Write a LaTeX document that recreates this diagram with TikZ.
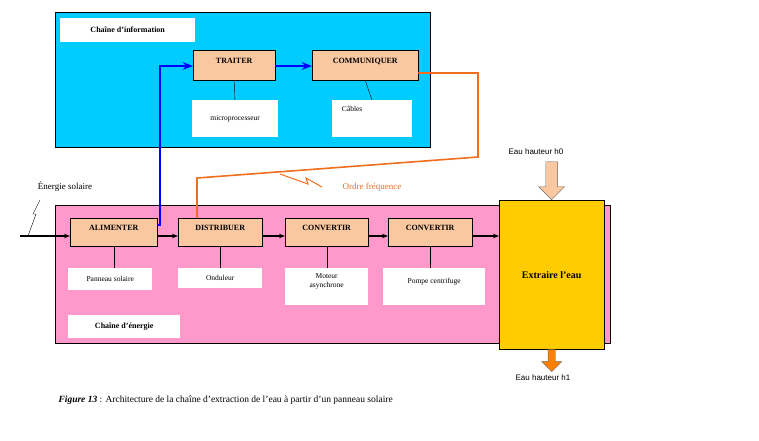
\documentclass[tikz,border=0pt]{standalone}
\usepackage{fontspec}
\setmainfont{Liberation Serif}
\newfontfamily\arialfont{Liberation Sans}
\usetikzlibrary{arrows.meta,shapes.arrows}
\definecolor{infoblue}{RGB}{0,204,255}
\definecolor{energypink}{RGB}{255,153,204}
\definecolor{blockpeach}{RGB}{250,200,160}
\definecolor{eauyellow}{RGB}{255,204,0}
\definecolor{ordreorange}{RGB}{240,110,30}
\begin{document}
\begin{tikzpicture}[x=1pt, y=-1pt,
			block/.style={draw, fill=blockpeach, font=\bfseries\fontsize{8}{9}\selectfont, minimum width=84, minimum height=28, anchor=north west, inner sep=1, text depth=9},
			sub/.style={fill=white, font=\fontsize{7.5}{9}\selectfont, anchor=north west, align=center, inner sep=2},
			label/.style={fill=white, font=\bfseries\fontsize{8}{9}\selectfont, anchor=north west, inner sep=2},
			flow/.style={-{Stealth[length=6pt]}, line width=1.6pt},
			>=Stealth]
	\useasboundingbox (0,0) rectangle (759,440);

	% chaine d'information
	\node[draw, fill=infoblue, minimum width=375, minimum height=135, anchor=north west] (info) at (55,12) {};
	\node[label, minimum width=135, minimum height=24] (infotitle) at (60,18) {Chaîne d’information};
	\node[block, minimum width=82, minimum height=30] (traiter) at (193,50) {TRAITER};
	\node[block, minimum width=106, minimum height=30] (communiquer) at (312,50) {COMMUNIQUER};
	\node[sub, minimum width=86, minimum height=37] (micro) at (192,100) {microprocesseur};
	\node[sub, minimum width=80, minimum height=37, text depth=20, align=left] (cables) at (332,100) {Câbles\hspace*{40pt}};
	\draw (traiter) -- (micro);
	\draw (communiquer.south) -- (372,100);

	% chaine d'energie
	\node[draw, fill=energypink, minimum width=555, minimum height=138, anchor=north west] (energie) at (55,205) {};
	\node[label, minimum width=112, minimum height=23] (energietitle) at (68,315) {Chaîne d’énergie};
	\node[block, minimum width=87] (alimenter) at (70,218) {ALIMENTER};
	\node[block] (distribuer) at (178,218) {DISTRIBUER};
	\node[block, minimum width=83] (convertir1) at (285,218) {CONVERTIR};
	\node[block] (convertir2) at (388,218) {CONVERTIR};
	\node[sub, minimum width=84, minimum height=22] (panneau) at (68,268) {Panneau solaire};
	\node[sub, minimum width=84, minimum height=20] (onduleur) at (178,268) {Onduleur};
	\node[sub, minimum width=83, minimum height=37, text depth=12] (moteur) at (285,268) {Moteur\\asynchrone};
	\node[sub, minimum width=102, minimum height=37, text depth=12] (pompe) at (383,268) {Pompe centrifuge};
	\draw (alimenter.south) -- (alimenter.south |- panneau.north);
	\draw (distribuer) -- (onduleur);
	\draw (convertir1) -- (moteur);
	\draw (convertir2.south) -- (convertir2.south |- pompe.north);

	% extraire
	\node[draw, fill=eauyellow, minimum width=105, minimum height=149, anchor=north west, font=\bfseries\fontsize{10}{12}\selectfont] (extraire) at (499,200) {Extraire l’eau};

	% flux d'energie
	\coordinate (entree) at (20,236);
	\draw[flow] (entree) -- (alimenter.west |- entree);
	\draw (28,236) -- (36,214) -- (33,214) -- (40,200);
	\node[font=\fontsize{9}{11}\selectfont] (soleil) at (65,187) {Énergie solaire};
	\draw[flow] (alimenter.east |- entree) -- (distribuer.west |- entree);
	\draw[flow] (distribuer.east |- entree) -- (convertir1.west |- entree);
	\draw[flow] (convertir1.east |- entree) -- (convertir2.west |- entree);
	\draw[flow] (convertir2.east |- entree) -- (extraire.west |- entree);

	% liaisons information
	\draw[->, blue, line width=1.6pt] (alimenter.east |- 0,225) -- (160,225) -- (160,66) -- (traiter.west |- 0,66);
	\draw[->, blue, line width=1.6pt] (traiter.east |- 0,66) -- (communiquer.west |- 0,66);
	\draw[ordreorange, line width=1.6pt] (communiquer.east |- 0,73) -- (478,73) -- (478,157) -- (197,178) -- (distribuer.north -| 197,0);
	\draw[ordreorange, line width=1pt] (280,174) -- (308,184) -- (306,178) -- (322,187);
	\node[ordreorange, font=\fontsize{9}{11}\selectfont] (ordre) at (372,187) {Ordre fréquence};

	% eau
	\node[font=\arialfont\fontsize{8}{10}\selectfont] (h0) at (536,152) {Eau hauteur h0};
	\node[draw=black!60, fill=blockpeach, single arrow, shape border rotate=270, minimum width=26, single arrow head extend=5, minimum height=38, inner sep=4, anchor=tip] (eauin) at (extraire.north) {};
	\node[draw=black!60, fill=orange, single arrow, shape border rotate=270, minimum width=20, single arrow head extend=4, minimum height=22, inner sep=2, anchor=tail] (eauout) at (extraire.south) {};
	\node[font=\arialfont\fontsize{8}{10}\selectfont] (h1) at (543,378) {Eau hauteur h1};

	% legende
	\node[anchor=west, font=\fontsize{9.5}{11}\selectfont] (legende) at (55,400) {\textbf{\textit{Figure 13}} : Architecture de la chaîne d'extraction de l'eau à partir d'un panneau solaire};
\end{tikzpicture}
\end{document}
